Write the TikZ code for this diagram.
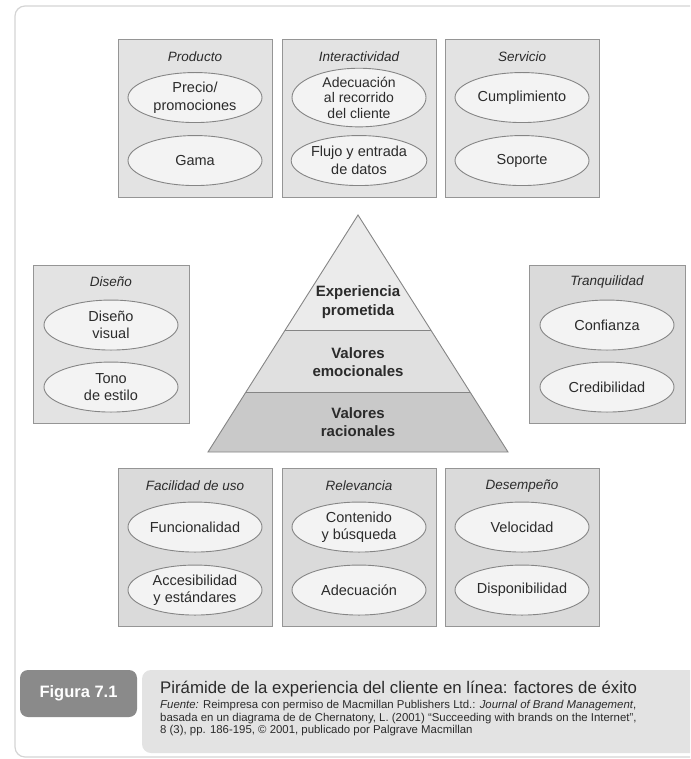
\documentclass[tikz,border=0pt]{standalone}
\usepackage{fontspec}
\setmainfont{Liberation Sans}
\usepackage{xcolor}
\usetikzlibrary{positioning, shapes.geometric}
\definecolor{texto}{HTML}{2B2B2B}
\definecolor{bordecaja}{HTML}{959595}
\definecolor{fondocaja}{HTML}{E3E3E3}
\definecolor{fondocajaosc}{HTML}{DADADA}
\definecolor{bordeovalo}{HTML}{858585}
\definecolor{fondoovalo}{HTML}{F3F3F3}
\definecolor{piso1}{HTML}{EBEBEB}
\definecolor{piso2}{HTML}{E0E0E0}
\definecolor{piso3}{HTML}{C9C9C9}
\definecolor{marco}{HTML}{D4D4D4}
\definecolor{fondopie}{HTML}{E3E3E3}
\definecolor{fondofig}{HTML}{8A8A8A}

\begin{document}
\begin{tikzpicture}[x=1pt, y=-1pt, node distance=41pt]
    \tikzstyle{caja} = [rectangle, draw=bordecaja, fill=fondocaja, line width=0.9pt, minimum width=154pt, minimum height=158pt]
    \tikzstyle{titulo} = [text=texto, font=\fontsize{13.5}{15}\selectfont\itshape]
    \tikzstyle{ovalo} = [ellipse, draw=bordeovalo, fill=fondoovalo, line width=0.9pt, minimum width=134pt, minimum height=50pt, inner sep=0pt, align=center, text=texto, font=\fontsize{14.5}{17.5}\selectfont]
    \tikzstyle{piso} = [align=center, text=texto, font=\fontsize{15}{18.5}\selectfont\bfseries]
    \tikzstyle{linea} = [draw=bordeovalo, line width=0.9pt]

    \useasboundingbox (0,0) rectangle (690,759);
    \clip (0,0) rectangle (690,759);

    % marco exterior
    \draw[marco, line width=1.2pt, rounded corners=10pt] (700,6) -- (15,6) -- (15,757) -- (700,757);

    % fila superior
    \node[caja] (prod) at (195,118) {};
    \node[titulo] (prodT) at ([yshift=-18pt]prod.north) {Producto};
    \node[ovalo, below of=prodT] (prodA) {Precio/\\promociones};
    \node[ovalo, node distance=63pt, below of=prodA] (prodB) {Gama};

    \node[caja] (inter) at (359,118) {};
    \node[titulo] (interT) at ([yshift=-18pt]inter.north) {Interactividad};
    \node[ovalo, below of=interT, font=\fontsize{14}{15.5}\selectfont] (interA) {Adecuación\\al recorrido\\del cliente};
    \node[ovalo, node distance=63pt, below of=interA] (interB) {Flujo y entrada\\de datos};

    \node[caja] (serv) at (522,118) {};
    \node[titulo] (servT) at ([yshift=-18pt]serv.north) {Servicio};
    \node[ovalo, below of=servT] (servA) {Cumplimiento};
    \node[ovalo, node distance=63pt, below of=servA] (servB) {Soporte};

    % laterales
    \node[caja, minimum width=156pt] (dis) at (111,344.5) {};
    \node[titulo] (disT) at ([yshift=-17pt]dis.north) {Diseño};
    \node[ovalo, node distance=43pt, below of=disT] (disA) {Diseño\\visual};
    \node[ovalo, node distance=62pt, below of=disA] (disB) {Tono\\de estilo};

    \node[caja, minimum width=156pt, fill=fondocajaosc] (tran) at (607,344.5) {};
    \node[titulo] (tranT) at ([yshift=-17pt]tran.north) {Tranquilidad};
    \node[ovalo, node distance=43pt, below of=tranT] (tranA) {Confianza};
    \node[ovalo, node distance=62pt, below of=tranA] (tranB) {Credibilidad};

    % piramide
    \coordinate (cima) at (358,215);
    \coordinate (c1l) at (285.2,330); \coordinate (c1r) at (430.8,330);
    \coordinate (c2l) at (246,392);   \coordinate (c2r) at (470,392);
    \coordinate (c3l) at (208,452);   \coordinate (c3r) at (508,452);
    \fill[piso1] (cima) -- (c1r) -- (c1l) -- cycle;
    \fill[piso2] (c1l) -- (c1r) -- (c2r) -- (c2l) -- cycle;
    \fill[piso3] (c2l) -- (c2r) -- (c3r) -- (c3l) -- cycle;
    \path[linea] (cima) -- (c3r) -- (c3l) -- cycle;
    \path[linea] (c1l) -- (c1r);
    \path[linea] (c2l) -- (c2r);
    \node[piso] (exp) at (358,302) {Experiencia\\prometida};
    \node[piso] (emo) at (358,362) {Valores\\emocionales};
    \node[piso] (rac) at (358,422) {Valores\\racionales};

    % fila inferior
    \node[caja, fill=fondocajaosc] (fac) at (195,547.5) {};
    \node[titulo] (facT) at ([yshift=-18pt]fac.north) {Facilidad de uso};
    \node[ovalo, below of=facT] (facA) {Funcionalidad};
    \node[ovalo, node distance=63pt, below of=facA] (facB) {Accesibilidad\\y estándares};

    \node[caja, fill=fondocajaosc] (rel) at (359,547.5) {};
    \node[titulo] (relT) at ([yshift=-18pt]rel.north) {Relevancia};
    \node[ovalo, below of=relT] (relA) {Contenido\\y búsqueda};
    \node[ovalo, node distance=63pt, below of=relA] (relB) {Adecuación};

    \node[caja, fill=fondocajaosc] (des) at (522,547.5) {};
    \node[titulo] (desT) at ([yshift=-18pt]des.north) {Desempeño};
    \node[ovalo, below of=desT] (desA) {Velocidad};
    \node[ovalo, node distance=63pt, below of=desA] (desB) {Disponibilidad};

    % pie de figura
    \fill[fondopie, rounded corners=9pt] (142,670) -- (710,670) -- (710,753) -- (142,753) -- cycle;
    \node[rectangle, rounded corners=8pt, fill=fondofig, minimum width=117pt, minimum height=47pt, text=white, font=\fontsize{16.5}{18}\selectfont\bfseries] (fig) at (78.5,693.5) {Figura 7.1};
    \node[anchor=west, inner sep=0pt, text=texto, font=\fontsize{16.8}{19}\selectfont] (pie) at (160,689) {Pirámide de la experiencia del cliente en línea: factores de éxito};
    \node[below=3pt of pie.south west, anchor=north west, inner sep=0pt, align=left, text=texto, font=\fontsize{11.4}{12.5}\selectfont] (fuente) {\textit{Fuente:} Reimpresa con permiso de Macmillan Publishers Ltd.: \textit{Journal of Brand Management},\\basada en un diagrama de de Chernatony, L. (2001) “Succeeding with brands on the Internet”,\\8 (3), pp. 186-195, © 2001, publicado por Palgrave Macmillan};
\end{tikzpicture}
\end{document}
